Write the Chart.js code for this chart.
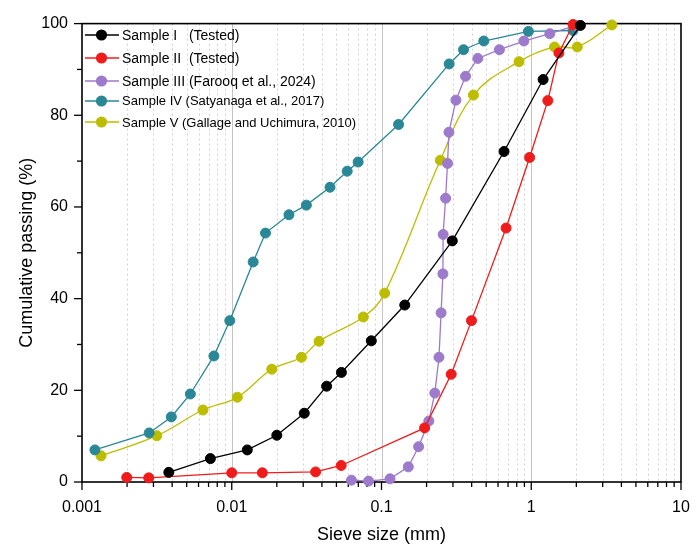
<!DOCTYPE html>
<html>
<head>
<meta charset="utf-8">
<script src="https://cdn.jsdelivr.net/npm/chart.js@4"></script>
<style>
  body { margin: 0; background: #fff; }
  #wrap { position: relative; width: 700px; height: 556px; }
  #legend { position: absolute; left: 0; top: 0; font-family: "Liberation Sans", Arial, sans-serif; color: #000; }
  .row { position: absolute; left: 84px; height: 16px; display: flex; align-items: center; white-space: pre; transform: translateY(-50%); }
  .row svg { width: 36px; height: 14px; margin-right: 2px; }
</style>
</head>
<body>
<div id="wrap">
  <canvas id="chart"></canvas>
  <div id="legend"></div>
</div>
<script>
// ================================
// DATA
// ================================
const sampleNames = [
  "Sample I   (Tested)",
  "Sample II  (Tested)",
  "Sample III (Farooq et al., 2024)",
  "Sample IV (Satyanaga et al., 2017)",
  "Sample V (Gallage and Uchimura, 2010)"
];
const sampleColors = ["#000000", "#f01c1c", "#9d7acb", "#2a8796", "#bdbd00"];

const sizeI = [0.0038, 0.0072, 0.0127, 0.020, 0.0305, 0.043, 0.054, 0.0855, 0.143, 0.297, 0.658, 1.2, 2.13];
const passI = [2.1, 5.1, 7.0, 10.2, 15.0, 20.9, 23.9, 30.8, 38.6, 52.6, 72.1, 87.8, 99.6];

const sizeII = [0.00199, 0.00279, 0.0100, 0.0160, 0.0363, 0.0538, 0.194, 0.292, 0.399, 0.679, 0.975, 1.29, 1.53, 1.90];
const passII = [1.0, 0.9, 2.0, 2.0, 2.2, 3.6, 11.8, 23.5, 35.2, 55.4, 70.8, 83.2, 93.6, 99.8];

const sizeIII = [0.063, 0.082, 0.114, 0.151, 0.177, 0.207, 0.227, 0.242, 0.250, 0.257, 0.258, 0.268, 0.276, 0.282, 0.314, 0.364, 0.44, 0.613, 0.893, 1.33, 2.0];
const passIII = [0.4, 0.2, 0.7, 3.3, 7.7, 13.3, 19.4, 27.2, 36.9, 45.4, 54.0, 61.9, 69.5, 76.3, 83.3, 88.5, 92.4, 94.3, 96.2, 97.8, 99.6];

const sizeIV = [0.00122, 0.00281, 0.00395, 0.00529, 0.0076, 0.0097, 0.0139, 0.0168, 0.0241, 0.0315, 0.0453, 0.059, 0.0698, 0.130, 0.283, 0.353, 0.482, 0.957, 1.9];
const passIV = [7.0, 10.7, 14.2, 19.2, 27.5, 35.2, 48.0, 54.3, 58.3, 60.4, 64.3, 67.8, 69.8, 78.0, 91.2, 94.3, 96.2, 98.3, 98.5];

const sizeV = [0.00134, 0.00316, 0.00642, 0.0109, 0.0185, 0.0292, 0.0383, 0.0756, 0.105, 0.247, 0.411, 0.828, 1.43, 2.03, 3.45];
const passV = [5.7, 10.1, 15.7, 18.5, 24.6, 27.2, 30.7, 36.0, 41.2, 70.2, 84.4, 91.7, 94.9, 94.9, 99.7];

const xDecades = [0.001, 0.01, 0.1, 1, 10];
const xTickLabels = ["0.001", "0.01", "0.1", "1", "10"];
const yTicks = [0, 10, 20, 30, 40, 50, 60, 70, 80, 90, 100];
const yTickLabels = ["0", "", "20", "", "40", "", "60", "", "80", "", "100"];

const xTitle = "Sieve size (mm)";
const yTitle = "Cumulative passing (%)";

// minor ticks 2..9 inside each decade
const xTicks = [];
xDecades.forEach((d, i) => {
  xTicks.push(d);
  if (i < xDecades.length - 1) for (let m = 2; m <= 9; m++) xTicks.push(+(d * m).toPrecision(3));
});

const FONT = "'Liberation Sans', Arial, sans-serif";

function pairs(xs, ys) {
  return xs.map((x, i) => ({ x, y: ys[i] }));
}

const seriesX = [sizeI, sizeII, sizeIII, sizeIV, sizeV];
const seriesY = [passI, passII, passIII, passIV, passV];

const datasets = sampleNames.map((name, i) => ({
  label: name,
  data: pairs(seriesX[i], seriesY[i]),
  borderColor: sampleColors[i],
  backgroundColor: sampleColors[i],
  pointBackgroundColor: sampleColors[i],
  pointBorderColor: sampleColors[i],
  pointBorderWidth: 1,
  pointRadius: 5,
  borderWidth: 1.3,
  tension: i === 4 ? 0.4 : 0,
  clip: false
}));

// ================================
// GRID, TICKS AND FRAME
// ================================
const framePlugin = {
  id: "frame",
  beforeDatasetsDraw(chart) {
    const { ctx, chartArea: a, scales: { x, y } } = chart;
    ctx.save();
    // vertical grid lines
    x.ticks.forEach(t => {
      const px = x.getPixelForValue(t.value);
      const major = xDecades.includes(t.value);
      if (major && (t.value === xDecades[0] || t.value === xDecades[xDecades.length - 1])) return;
      ctx.beginPath();
      ctx.lineWidth = 1;
      ctx.strokeStyle = major ? "#c4c4c4" : "#d2d2d2";
      ctx.setLineDash(major ? [] : [2, 3]);
      ctx.moveTo(Math.round(px) + 0.5, a.top);
      ctx.lineTo(Math.round(px) + 0.5, a.bottom);
      ctx.stroke();
    });
    ctx.setLineDash([]);
    // frame
    ctx.lineWidth = 1.6;
    ctx.strokeStyle = "#000";
    ctx.strokeRect(a.left, a.top, a.right - a.left, a.bottom - a.top);
    // tick marks (outside)
    ctx.lineWidth = 1.3;
    x.ticks.forEach(t => {
      const px = x.getPixelForValue(t.value);
      const len = xDecades.includes(t.value) ? 8 : 5;
      ctx.beginPath();
      ctx.moveTo(px, a.bottom);
      ctx.lineTo(px, a.bottom + len);
      ctx.stroke();
    });
    y.ticks.forEach((t, i) => {
      const py = y.getPixelForValue(t.value);
      const len = yTickLabels[i] !== "" ? 8 : 5;
      ctx.beginPath();
      ctx.moveTo(a.left, py);
      ctx.lineTo(a.left - len, py);
      ctx.stroke();
    });
    ctx.restore();
  }
};

// ================================
// BUILD CHART
// ================================
new Chart(document.getElementById("chart"), {
  type: "line",
  data: { datasets },
  options: {
    responsive: true,
    maintainAspectRatio: false,
    animation: false,
    layout: { padding: { top: 23, right: 19, left: 0, bottom: 0 } },
    plugins: { legend: { display: false }, tooltip: { enabled: false } },
    scales: {
      x: {
        type: "logarithmic",
        min: 0.001,
        max: 10,
        afterBuildTicks: axis => { axis.ticks = xTicks.map(v => ({ value: v })); },
        afterFit: axis => {
          axis.height = 74;
          axis.paddingLeft = 0;
          axis.paddingRight = 0;
        },
        grid: { display: false, drawTicks: false },
        border: { display: false },
        ticks: {
          autoSkip: false,
          maxRotation: 0,
          padding: 16,
          color: "#000",
          font: { family: FONT, size: 16 },
          callback: v => {
            const k = xDecades.indexOf(v);
            return k >= 0 ? xTickLabels[k] : "";
          }
        },
        title: { display: true, text: xTitle, color: "#000", font: { family: FONT, size: 18 }, padding: { top: 0, bottom: 10 } }
      },
      y: {
        type: "linear",
        min: 0,
        max: 100,
        afterBuildTicks: axis => { axis.ticks = yTicks.map(v => ({ value: v })); },
        afterFit: axis => { axis.width = 82; },
        grid: { display: false, drawTicks: false },
        border: { display: false },
        ticks: {
          autoSkip: false,
          padding: 14,
          color: "#000",
          font: { family: FONT, size: 16 },
          callback: v => yTickLabels[yTicks.indexOf(v)] ?? ""
        },
        title: { display: true, text: yTitle, color: "#000", font: { family: FONT, size: 18 }, padding: { top: 16, bottom: 0 } }
      }
    }
  },
  plugins: [framePlugin]
});

// ================================
// LEGEND (inside plot, top-left)
// ================================
const legendRows = [35, 57.5, 80.5, 100.5, 122.3];
const legendSizes = [14, 14, 14, 13, 13];
const legend = document.getElementById("legend");
sampleNames.forEach((name, i) => {
  const row = document.createElement("div");
  row.className = "row";
  row.style.top = legendRows[i] + "px";
  row.style.fontSize = legendSizes[i] + "px";
  row.innerHTML =
    `<svg viewBox="0 0 36 14"><line x1="1" y1="7" x2="35" y2="7" stroke="${sampleColors[i]}" stroke-width="1.4"/>` +
    `<circle cx="17.5" cy="7" r="5.6" fill="${sampleColors[i]}"/></svg><span>${name}</span>`;
  legend.appendChild(row);
});
</script>
</body>
</html>
